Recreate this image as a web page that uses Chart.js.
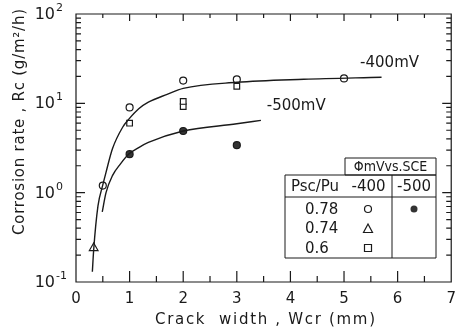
<!DOCTYPE html>
<html>
<head>
<meta charset="utf-8">
<script src="https://cdn.jsdelivr.net/npm/chart.js@4"></script>
<style>
  body { margin: 0; background: #fff; }
</style>
</head>
<body>
<canvas id="chart" width="464" height="329"></canvas>
<script>
// measured points, Psc/Pu = 0.78 at -400 mV (open circles)
const circ400X = [0.5, 1, 2, 3, 5];
const circ400Y = [1.2, 9, 18, 18.5, 19];
// Psc/Pu = 0.74 at -400 mV (triangle)
const tri400X = [0.33];
const tri400Y = [0.24];
// Psc/Pu = 0.6 at -400 mV (squares)
const sq400X = [1, 2, 2, 3];
const sq400Y = [6, 9.2, 10.5, 15.5];
// Psc/Pu = 0.78 at -500 mV (filled dots)
const dot500X = [1, 2, 3];
const dot500Y = [2.7, 4.9, 3.4];

// fitted curves
const curve400X = [0.305, 0.33, 0.41, 0.5, 0.56, 0.68, 0.87, 0.99, 1.17, 1.35, 1.7, 2, 3, 4.25, 5.7];
const curve400Y = [0.13, 0.23, 0.71, 1.22, 1.69, 3.1, 5.4, 6.7, 8.7, 10.3, 12.6, 14.7, 17.2, 18.6, 19.6];
const curve500X = [0.49, 0.56, 0.68, 0.83, 0.99, 1.17, 1.35, 2, 3, 3.45];
const curve500Y = [0.61, 1.0, 1.55, 2.1, 2.72, 3.2, 3.65, 4.9, 5.9, 6.45];

const yTicks = [0.1, 1, 10, 100];
const yTickExp = ["-1", "0", "1", "2"];
const xTicks = [0, 1, 2, 3, 4, 5, 6, 7];

const xTitle = "Crack  width , Wcr (mm)";
const yTitle = "Corrosion rate , Rc (g/m\u00B2/h)";

const INK = "#1a1a1a";
const FONT = "'DejaVu Sans', sans-serif";

function pts(xs, ys) {
  return xs.map((x, i) => ({ x: x, y: ys[i] }));
}

function drawMarker(ctx, kind, x, y) {
  ctx.save();
  ctx.lineWidth = 1.2;
  ctx.strokeStyle = INK;
  ctx.fillStyle = "#fff";
  ctx.beginPath();
  if (kind === "circle") {
    ctx.arc(x, y, 3.5, 0, Math.PI * 2);
    ctx.fill(); ctx.stroke();
  } else if (kind === "dot") {
    ctx.fillStyle = "#333";
    ctx.arc(x, y, 3.5, 0, Math.PI * 2);
    ctx.fill();
  } else if (kind === "triangle") {
    ctx.moveTo(x, y - 5);
    ctx.lineTo(x + 4.5, y + 3.5);
    ctx.lineTo(x - 4.5, y + 3.5);
    ctx.closePath();
    ctx.fill(); ctx.stroke();
  } else {
    ctx.rect(x - 3.5, y - 3.5, 7, 7);
    ctx.fill(); ctx.stroke();
  }
  ctx.restore();
}

// text stretched to a given length, like the spaced lettering of the original
function spacedText(ctx, text, cx, cy, length) {
  ctx.letterSpacing = "0px";
  const natural = ctx.measureText(text).width;
  const gap = Math.max(0, (length - natural) / (text.length - 1));
  ctx.letterSpacing = gap + "px";
  ctx.textAlign = "left";
  ctx.fillText(text, cx - length / 2, cy);
  ctx.letterSpacing = "0px";
}

// frame, inward tick marks, axis titles, labels and the legend table
const decorations = {
  id: "decorations",
  afterDraw(chart) {
    const ctx = chart.ctx;
    const a = chart.chartArea;
    const xs = chart.scales.x;
    const ys = chart.scales.y;
    ctx.save();
    ctx.strokeStyle = INK;
    ctx.lineWidth = 1.2;
    ctx.beginPath();
    ctx.rect(a.left, a.top, a.right - a.left, a.bottom - a.top);
    ctx.stroke();

    ctx.beginPath();
    for (let v = 0.5; v < 7; v += 0.5) {
      const px = xs.getPixelForValue(v);
      const major = Number.isInteger(v);
      ctx.moveTo(px, a.bottom);
      ctx.lineTo(px, a.bottom - (major ? 11 : 6));
      ctx.moveTo(px, a.top);
      ctx.lineTo(px, a.top + (major ? 7 : 4));
    }
    for (let d = 0.1; d < 100; d *= 10) {
      for (let m = 1; m <= 9; m++) {
        if (m === 1 && d < 0.5) continue;
        const py = ys.getPixelForValue(d * m);
        const len = m === 1 ? 9 : 5;
        ctx.moveTo(a.left, py);
        ctx.lineTo(a.left + len, py);
        ctx.moveTo(a.right, py);
        ctx.lineTo(a.right - len, py);
      }
    }
    ctx.stroke();

    ctx.fillStyle = INK;
    ctx.textBaseline = "middle";

    // y tick labels as 10 with a raised exponent
    yTicks.forEach((v, i) => {
      const py = ys.getPixelForValue(v);
      ctx.font = "16px " + FONT;
      ctx.textAlign = "right";
      ctx.fillText("10", 55, py + 1);
      ctx.font = "11px " + FONT;
      ctx.textAlign = "left";
      ctx.fillText(yTickExp[i], 56, py - 6);
    });

    // axis titles
    ctx.font = "15px " + FONT;
    spacedText(ctx, xTitle, 265, 320, 220);
    ctx.save();
    ctx.translate(20, 122);
    ctx.rotate(-Math.PI / 2);
    spacedText(ctx, yTitle, 0, 0, 226);
    ctx.restore();

    // series labels
    ctx.font = "15px " + FONT;
    ctx.textAlign = "left";
    ctx.fillText("-400mV", xs.getPixelForValue(5.3), ys.getPixelForValue(28));
    ctx.fillText("-500mV", xs.getPixelForValue(3.56), ys.getPixelForValue(9.2));

    // legend table
    const L = 285, M1 = 345, M2 = 392, R = 436;
    const T = 158, H = 175, RW = 197, B = 258;
    ctx.lineWidth = 1;
    ctx.beginPath();
    ctx.rect(M1, T, R - M1, H - T);
    ctx.rect(L, H, R - L, B - H);
    ctx.moveTo(L, RW); ctx.lineTo(R, RW);
    ctx.moveTo(M2, H); ctx.lineTo(M2, B);
    ctx.stroke();
    ctx.textAlign = "center";
    ctx.font = "14px 'DejaVu Sans Condensed', " + FONT;
    ctx.fillText("\u03A6mVvs.SCE", (M1 + R) / 2, 167);
    ctx.font = "15px " + FONT;
    ctx.fillText("Psc/Pu", (L + M1) / 2, 187);
    ctx.fillText("-400", (M1 + M2) / 2, 187);
    ctx.fillText("-500", (M2 + R) / 2, 187);
    ctx.textAlign = "left";
    ctx.fillText("0.78", 305, 210);
    ctx.fillText("0.74", 305, 229);
    ctx.fillText("0.6", 305, 249);
    drawMarker(ctx, "circle", 368, 209);
    drawMarker(ctx, "dot", 414, 209);
    drawMarker(ctx, "triangle", 368, 229);
    drawMarker(ctx, "square", 368, 248);
    ctx.restore();
  }
};

const lineStyle = {
  showLine: true,
  borderColor: INK,
  borderWidth: 1.4,
  pointRadius: 0,
  cubicInterpolationMode: "monotone",
  fill: false
};

const markerStyle = (shape, fill, r) => ({
  showLine: false,
  pointStyle: shape,
  pointRadius: r,
  pointBackgroundColor: fill,
  pointBorderColor: INK,
  pointBorderWidth: 1.2
});

new Chart(document.getElementById("chart"), {
  type: "scatter",
  data: {
    datasets: [
      Object.assign({ data: pts(curve400X, curve400Y) }, lineStyle),
      Object.assign({ data: pts(curve500X, curve500Y) }, lineStyle),
      Object.assign({ data: pts(circ400X, circ400Y) }, markerStyle("circle", "#fff", 3.5)),
      Object.assign({ data: pts(tri400X, tri400Y) }, markerStyle("triangle", "#fff", 5)),
      Object.assign({ data: pts(sq400X, sq400Y) }, markerStyle("rect", "#fff", 4)),
      Object.assign({ data: pts(dot500X, dot500Y) }, markerStyle("circle", "#333", 3.5))
    ]
  },
  options: {
    responsive: false,
    animation: false,
    layout: { padding: { top: 14, right: 6, left: 0, bottom: 0 } },
    plugins: { legend: { display: false }, tooltip: { enabled: false } },
    scales: {
      x: {
        type: "linear",
        min: 0,
        max: 7,
        afterBuildTicks: (s) => { s.ticks = xTicks.map((v) => ({ value: v })); },
        afterFit: (s) => { s.height = 47; },
        grid: { display: false, drawTicks: false },
        border: { display: false },
        ticks: { color: INK, font: { size: 15, family: FONT }, padding: 8 }
      },
      y: {
        type: "logarithmic",
        min: 0.1,
        max: 100,
        afterBuildTicks: (s) => { s.ticks = yTicks.map((v) => ({ value: v })); },
        afterFit: (s) => { s.width = 76; },
        grid: { display: false, drawTicks: false },
        border: { display: false },
        ticks: { display: false }
      }
    }
  },
  plugins: [decorations]
});
</script>
</body>
</html>
